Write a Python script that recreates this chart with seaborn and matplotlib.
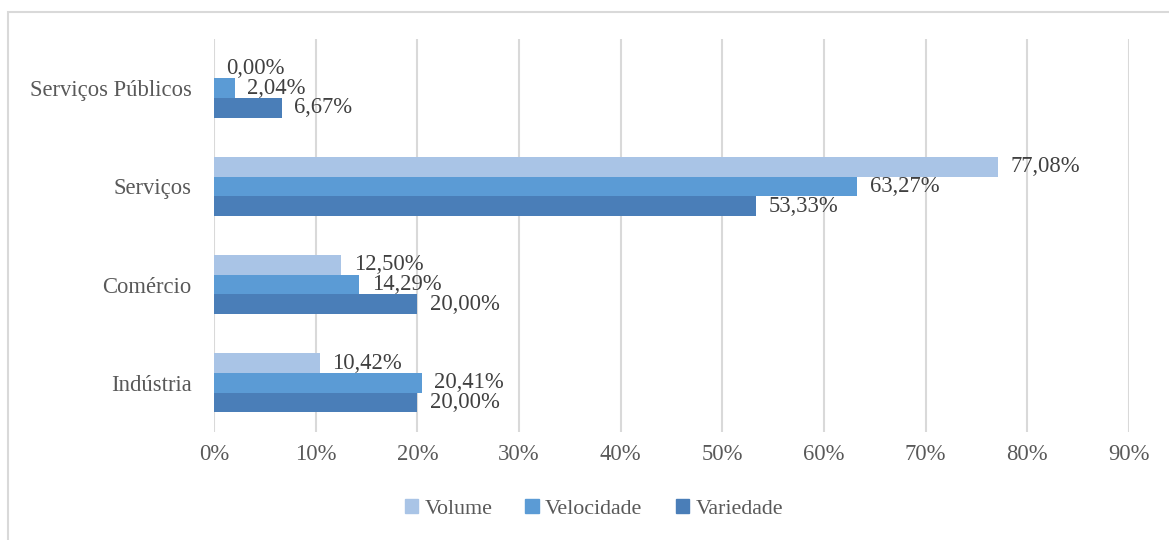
import matplotlib
matplotlib.use("Agg")
import matplotlib.pyplot as plt
import matplotlib.patches as mpatches
from matplotlib.ticker import FuncFormatter
import seaborn as sns
import pandas as pd

# data (percent)
sectors = ["Serviços Públicos", "Serviços", "Comércio", "Indústria"]
series = ["Volume", "Velocidade", "Variedade"]
volume = [0.00, 77.08, 12.50, 10.42]
velocidade = [2.04, 63.27, 14.29, 20.41]
variedade = [6.67, 53.33, 20.00, 20.00]
colors = ["#a9c4e6", "#5b9bd5", "#4a7eb8"]

df = pd.DataFrame({
    "setor": sectors * 3,
    "serie": [s for s in series for _ in sectors],
    "valor": volume + velocidade + variedade,
})

sns.set_theme(style="white")
plt.rcParams["font.family"] = ["Liberation Serif", "DejaVu Serif"]

fig = plt.figure(figsize=(11.69, 5.4), dpi=100)
ax = fig.add_axes([0.1831, 0.2, 0.7827, 0.7278])

sns.barplot(data=df, y="setor", x="valor", hue="serie", order=sectors,
            hue_order=series, palette=colors, orient="h", width=0.6,
            saturation=1, errorbar=None, linewidth=0, legend=False, ax=ax)

# data labels with decimal comma
for cont, vals in zip(ax.containers, [volume, velocidade, variedade]):
    ax.bar_label(cont, labels=[f"{v:.2f}%".replace(".", ",") for v in vals],
                 padding=9, fontsize=16.3, color="#404040")

ax.set_xlim(0, 90)
ax.set_xticks(range(0, 91, 10))
ax.xaxis.set_major_formatter(FuncFormatter(lambda v, p: f"{v:.0f}%"))
ax.grid(axis="x", color="#d9d9d9", linewidth=1.5)
ax.set_axisbelow(True)
for s in ax.spines.values():
    s.set_visible(False)
ax.set_xlabel("")
ax.set_ylabel("")
ax.tick_params(axis="x", length=0, pad=9, labelsize=16.3, labelcolor="#595959")
ax.tick_params(axis="y", length=0, pad=16, labelsize=16.3, labelcolor="#595959")

handles = [mpatches.Patch(color=c, label=s) for c, s in zip(colors, series)]
fig.legend(handles=handles, loc="center", bbox_to_anchor=(0.508, 0.057), ncol=3,
           frameon=False, fontsize=15.8, handlelength=0.6, handleheight=0.6,
           handletextpad=0.3, columnspacing=1.5, labelcolor="#595959")

# light outer frame, clipped by the canvas on the right and bottom
fig.patches.append(mpatches.Rectangle((0.0068, -0.1), 1.2, 1.078, fill=False,
                                      edgecolor="#d9d9d9", linewidth=1.5,
                                      transform=fig.transFigure, clip_on=False))

fig.savefig("out.png", dpi=100)
